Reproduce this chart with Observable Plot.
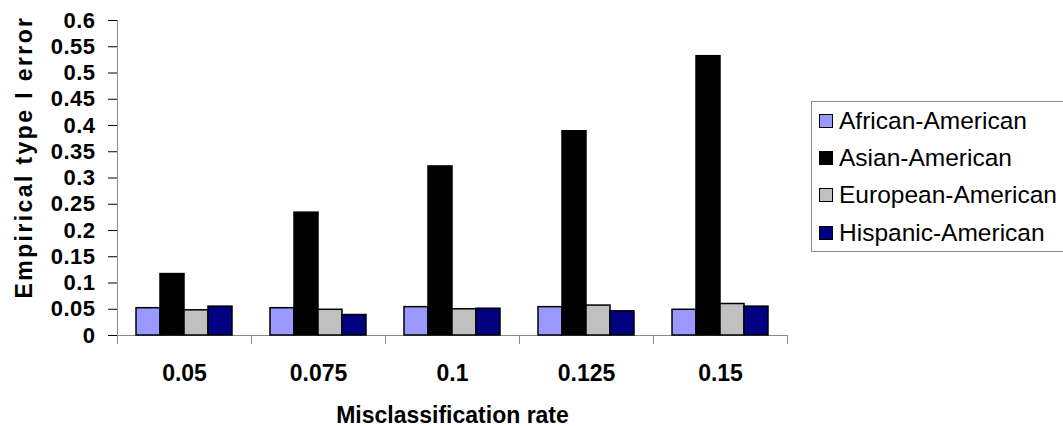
<!DOCTYPE html>
<html>
<head>
<meta charset="utf-8">
<script src="https://cdn.jsdelivr.net/npm/d3@7"></script>
<script src="https://cdn.jsdelivr.net/npm/@observablehq/plot@0.6"></script>
<style>
  html, body { margin: 0; padding: 0; background: #fff; overflow: hidden; }
  #wrap { position: relative; width: 1063px; height: 426px; overflow: hidden; font-family: Arial, "Liberation Sans", sans-serif; }
  #chart svg { font-family: Arial, "Liberation Sans", sans-serif; font-weight: bold; font-size: 22px; color: #000; }
  #chart svg [aria-label="y-axis label"] text, #chart svg [aria-label="y-axis label"] { letter-spacing: 2.4px; font-size: 23px; }
  #chart svg [aria-label="y-axis tick label"] { font-size: 22px; letter-spacing: 0.5px; }
  #chart svg [aria-label="fx-axis label"] { font-size: 23px; }
  #chart svg [aria-label="fx-axis tick label"] { font-size: 23px; }
  #legend { position: absolute; left: 811px; top: 101px; width: 280px; height: 151px; border: 1px solid #8c8c8c; box-sizing: border-box; background: #fff; }
  .item { height: 37.3px; display: flex; align-items: center; font-size: 24.5px; color: #000; white-space: nowrap; }
  .sw { width: 14px; height: 14px; box-sizing: border-box; border: 1.5px solid #000; margin-left: 7px; margin-right: 6px; }
</style>
</head>
<body>
<div id="wrap">
  <div id="chart"></div>
  <div id="legend"></div>
</div>
<script>
const rates = ["0.05", "0.075", "0.1", "0.125", "0.15"];
const groups = ["African-American", "Asian-American", "European-American", "Hispanic-American"];
const africanAmerican  = [0.052, 0.052, 0.054, 0.054, 0.049];
const asianAmerican    = [0.117, 0.234, 0.322, 0.389, 0.532];
const europeanAmerican = [0.048, 0.049, 0.050, 0.057, 0.060];
const hispanicAmerican = [0.055, 0.039, 0.051, 0.046, 0.055];
const colors = ["#9999FF", "#000000", "#C0C0C0", "#000080"];
const yTicks = [0, 0.05, 0.1, 0.15, 0.2, 0.25, 0.3, 0.35, 0.4, 0.45, 0.5, 0.55, 0.6];
const yTickLabels = ["0", "0.05", "0.1", "0.15", "0.2", "0.25", "0.3", "0.35", "0.4", "0.45", "0.5", "0.55", "0.6"];

const seriesValues = [africanAmerican, asianAmerican, europeanAmerican, hispanicAmerican];
const data = [];
rates.forEach((r, i) => groups.forEach((g, j) => data.push({rate: r, group: g, value: seriesValues[j][i]})));

const W = 1063, H = 426;
const mL = 117, mR = 276, mT = 20, mB = 91;
const axisGray = "#8c8c8c";

const chart = Plot.plot({
  width: W,
  height: H,
  marginLeft: mL,
  marginRight: mR,
  marginTop: mT,
  marginBottom: mB,
  style: {background: "#fff", overflow: "visible"},
  fx: {
    domain: rates,
    padding: 0,
    label: "Misclassification rate",
    labelAnchor: "center",
    labelOffset: 87,
    axis: "bottom",
    tickSize: 0,
    tickPadding: 29
  },
  x: {domain: groups, paddingInner: 0, paddingOuter: 0.71, axis: null},
  y: {
    domain: [0, 0.6],
    ticks: yTicks,
    tickFormat: (d) => yTickLabels[yTicks.indexOf(d)],
    tickSize: 9,
    tickPadding: 13,
    label: "Empirical type I error",
    labelAnchor: "center",
    labelOffset: 102,
    labelArrow: false
  },
  color: {domain: groups, range: colors},
  marks: [
    Plot.frame({anchor: "left", fx: [rates[0]], stroke: axisGray, strokeOpacity: 1}),
    Plot.frame({anchor: "left", insetTop: H - mT - mB, insetBottom: -8, stroke: axisGray, strokeOpacity: 1}),
    Plot.frame({anchor: "right", insetTop: H - mT - mB, insetBottom: -8, stroke: axisGray, strokeOpacity: 1}),
    Plot.ruleY([0], {stroke: axisGray}),
    Plot.barY(data, {fx: "rate", x: "group", y: "value", fill: "group", stroke: "#000", strokeWidth: 1.5})
  ]
});
document.getElementById("chart").appendChild(chart);

// y-axis ticks gray
chart.querySelectorAll('[aria-label="y-axis tick"]').forEach(g => { g.setAttribute("stroke", axisGray); g.setAttribute("stroke-opacity", 1); });
// shift the y title upward along its own direction, as in the reference
chart.querySelectorAll('[aria-label="y-axis label"] text').forEach(t => t.setAttribute("dx", 21));

const legend = document.getElementById("legend");
groups.forEach((g, i) => {
  const item = document.createElement("div");
  item.className = "item";
  const sw = document.createElement("div");
  sw.className = "sw";
  sw.style.background = colors[i];
  const t = document.createElement("span");
  t.textContent = g;
  item.appendChild(sw);
  item.appendChild(t);
  legend.appendChild(item);
});
</script>
</body>
</html>
